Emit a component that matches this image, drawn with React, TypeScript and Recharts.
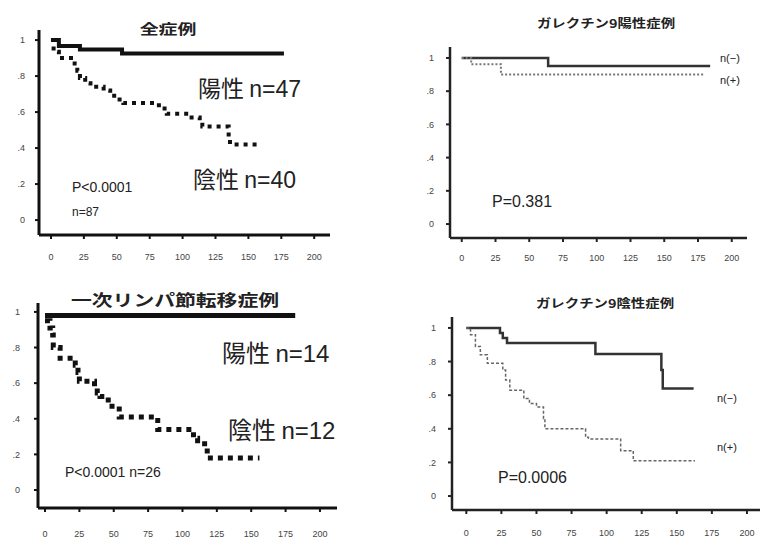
import { LineChart, Line, XAxis, YAxis } from 'recharts';

// time ticks (months) and survival ticks shared by all four panels
const timeTicks = [0, 25, 50, 75, 100, 125, 150, 175, 200];
const survTicks = [0, 0.2, 0.4, 0.6, 0.8, 1];

// 全症例
const allSolid = [
  { t: 0, s: 1 }, { t: 6, s: 0.967 }, { t: 22, s: 0.948 }, { t: 54, s: 0.926 }, { t: 177, s: 0.926 },
];
const allDotted = [
  { t: 0, s: 1 }, { t: 2, s: 0.935 }, { t: 6, s: 0.9 }, { t: 18, s: 0.87 }, { t: 20, s: 0.83 },
  { t: 22, s: 0.79 }, { t: 26, s: 0.76 }, { t: 30, s: 0.74 }, { t: 40, s: 0.72 }, { t: 45, s: 0.69 },
  { t: 50, s: 0.67 }, { t: 55, s: 0.65 }, { t: 82, s: 0.62 }, { t: 88, s: 0.59 }, { t: 105, s: 0.57 },
  { t: 113, s: 0.55 }, { t: 115, s: 0.52 }, { t: 135, s: 0.46 }, { t: 136, s: 0.42 }, { t: 157, s: 0.42 },
];

// ガレクチン9陽性症例
const galPosMinus = [{ t: 0, s: 1 }, { t: 64, s: 0.952 }, { t: 184, s: 0.952 }];
const galPosPlus = [{ t: 0, s: 1 }, { t: 7, s: 0.962 }, { t: 29, s: 0.9 }, { t: 180, s: 0.9 }];

// 一次リンパ節転移症例
const lnSolid = [{ t: 0, s: 0.98 }, { t: 182, s: 0.98 }];
const lnDotted = [
  { t: 0, s: 0.95 }, { t: 3.6, s: 0.91 }, { t: 5.6, s: 0.87 }, { t: 6, s: 0.8 }, { t: 11, s: 0.74 },
  { t: 22, s: 0.7 }, { t: 24, s: 0.66 }, { t: 25, s: 0.61 }, { t: 36, s: 0.57 }, { t: 38, s: 0.545 },
  { t: 40, s: 0.525 }, { t: 46, s: 0.47 }, { t: 54, s: 0.41 }, { t: 82, s: 0.34 }, { t: 108, s: 0.29 },
  { t: 111, s: 0.26 }, { t: 118, s: 0.18 }, { t: 156, s: 0.18 },
];

// ガレクチン9陰性症例
const galNegMinus = [
  { t: 0, s: 1 }, { t: 24, s: 0.97 }, { t: 26, s: 0.94 }, { t: 29, s: 0.91 }, { t: 92, s: 0.845 },
  { t: 139, s: 0.75 }, { t: 140, s: 0.64 }, { t: 162, s: 0.64 },
];
const galNegPlus = [
  { t: 0, s: 1 }, { t: 3, s: 0.96 }, { t: 6.5, s: 0.89 }, { t: 10, s: 0.84 }, { t: 15, s: 0.79 },
  { t: 26, s: 0.75 }, { t: 28, s: 0.69 }, { t: 31, s: 0.63 }, { t: 41, s: 0.58 }, { t: 45, s: 0.55 },
  { t: 50, s: 0.53 }, { t: 55, s: 0.46 }, { t: 56, s: 0.4 }, { t: 85, s: 0.35 }, { t: 87, s: 0.34 },
  { t: 110, s: 0.27 }, { t: 119, s: 0.21 }, { t: 163, s: 0.21 },
];

const JP = '"Noto Sans CJK JP", sans-serif';
const SANS = '"Liberation Sans", Arial, sans-serif';
const YW = 40;

const survLabel = (v: number) => {
  const r = Math.round(v * 10);
  if (r === 0) return '0';
  if (r === 10) return '1';
  return '.' + r;
};

interface Curve {
  data: { t: number; s: number }[];
  stroke: string;
  width: number;
  dash?: string;
}

interface PanelProps {
  left: number; top: number; w: number; h: number;
  xDomain: [number, number]; yDomain: [number, number];
  curves: Curve[];
  axisW: number; axisColor: string; xGap: number; yGap: number;
}

function Panel({ left, top, w, h, xDomain, yDomain, curves, axisW, axisColor, xGap, yGap }: PanelProps) {
  const tickStyle = { fontSize: 9, fill: '#444', fontFamily: SANS, stroke: 'none' };
  return (
    <div style={{ position: 'absolute', left: left - YW, top }}>
      <LineChart width={w + YW} height={h + 40} margin={{ top: 0, right: 0, bottom: 0, left: 0 }}>
        <XAxis
          type="number" dataKey="t" domain={xDomain} allowDataOverflow ticks={timeTicks} interval={0}
          height={40} tickSize={4} tickMargin={xGap}
          stroke={axisColor} strokeWidth={axisW}
          axisLine={{ stroke: axisColor, strokeWidth: axisW }}
          tickLine={{ stroke: axisColor, strokeWidth: 2 }}
          tick={tickStyle}
        />
        <YAxis
          type="number" dataKey="s" domain={yDomain} allowDataOverflow ticks={survTicks} interval={0}
          width={YW} tickSize={4} tickMargin={yGap} tickFormatter={survLabel}
          stroke={axisColor} strokeWidth={axisW}
          axisLine={{ stroke: axisColor, strokeWidth: axisW }}
          tickLine={{ stroke: axisColor, strokeWidth: 2 }}
          tick={tickStyle}
        />
        {curves.map((c, i) => (
          <Line
            key={i} data={c.data} dataKey="s" type="stepAfter" dot={false} activeDot={false}
            stroke={c.stroke} strokeWidth={c.width} strokeDasharray={c.dash}
            isAnimationActive={false}
          />
        ))}
      </LineChart>
    </div>
  );
}

function Txt({ x, y, size, children, font = SANS, bold = false, sx = 1, anchor = 'left' }: any) {
  return (
    <div
      style={{
        position: 'absolute', left: x, top: y, fontSize: size, fontFamily: font, lineHeight: 1,
        fontWeight: bold ? 700 : 400, color: '#222', whiteSpace: 'nowrap',
        transform: `translate(${anchor === 'center' ? '-50%' : '0'}, -50%) scaleX(${sx})`,
        transformOrigin: anchor === 'center' ? 'center' : 'left center',
      }}
    >
      {children}
    </div>
  );
}

export default function App() {
  return (
    <div style={{ position: 'absolute', left: 0, top: 0, width: 765, height: 545, background: '#fff', overflow: 'hidden' }}>
      <Panel
        left={39} top={30} w={291} h={205} xDomain={[-9.1, 212]} yDomain={[-0.083, 1.056]}
        axisW={3} axisColor="#111" xGap={15} yGap={10}
        curves={[
          { data: allSolid, stroke: '#111', width: 4 },
          { data: allDotted, stroke: '#111', width: 4, dash: '4 5' },
        ]}
      />
      <Panel
        left={450} top={47} w={297} h={191} xDomain={[-8.7, 211.3]} yDomain={[-0.084, 1.066]}
        axisW={2.5} axisColor="#222" xGap={13} yGap={12}
        curves={[
          { data: galPosMinus, stroke: '#333', width: 2.5 },
          { data: galPosPlus, stroke: '#777', width: 2, dash: '2 2' },
        ]}
      />
      <Panel
        left={38} top={303} w={299} h={205} xDomain={[-5.1, 212.4]} yDomain={[-0.101, 1.05]}
        axisW={3} axisColor="#111" xGap={19} yGap={14}
        curves={[
          { data: lnSolid, stroke: '#111', width: 5 },
          { data: lnDotted, stroke: '#111', width: 5, dash: '5 5' },
        ]}
      />
      <Panel
        left={452} top={317} w={308} h={193} xDomain={[-10.2, 209.3]} yDomain={[-0.083, 1.065]}
        axisW={2.5} axisColor="#222" xGap={16} yGap={12}
        curves={[
          { data: galNegMinus, stroke: '#333', width: 2.5 },
          { data: galNegPlus, stroke: '#666', width: 1.5, dash: '3 2' },
        ]}
      />

      <Txt x={168} y={28} size={14} font={JP} bold sx={1.35} anchor="center">全症例</Txt>
      <Txt x={198} y={88} size={23} font={JP}>陽性 <span style={{ fontFamily: SANS }}>n=47</span></Txt>
      <Txt x={193} y={179} size={23} font={JP}>陰性 <span style={{ fontFamily: SANS }}>n=40</span></Txt>
      <Txt x={72} y={187} size={14}>P&lt;0.0001</Txt>
      <Txt x={72} y={212} size={12}>n=87</Txt>

      <Txt x={606} y={23} size={12} font={JP} bold sx={1.2} anchor="center">ガレクチン9陽性症例</Txt>
      <Txt x={720} y={58} size={11}>n(−)</Txt>
      <Txt x={720} y={80} size={11}>n(+)</Txt>
      <Txt x={492} y={202} size={16}>P=0.381</Txt>

      <Txt x={175} y={299} size={16} font={JP} bold sx={1.3} anchor="center">一次リンパ節転移症例</Txt>
      <Txt x={222} y={353} size={24} font={JP}>陽性 <span style={{ fontFamily: SANS }}>n=14</span></Txt>
      <Txt x={228} y={430} size={24} font={JP}>陰性 <span style={{ fontFamily: SANS }}>n=12</span></Txt>
      <Txt x={65} y={472} size={14}>P&lt;0.0001 n=26</Txt>

      <Txt x={605} y={303} size={12} font={JP} bold sx={1.2} anchor="center">ガレクチン9陰性症例</Txt>
      <Txt x={717} y={398} size={11}>n(−)</Txt>
      <Txt x={717} y={447} size={11}>n(+)</Txt>
      <Txt x={498} y={478} size={16}>P=0.0006</Txt>
    </div>
  );
}
